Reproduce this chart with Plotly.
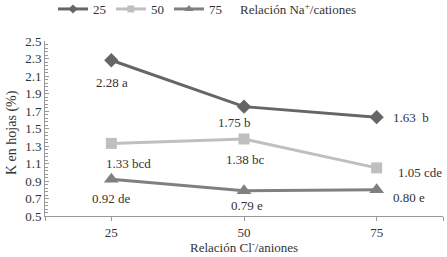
import plotly.graph_objects as go

# ---- data ----
categories = ["25", "50", "75"]
series_names = ["25", "50", "75"]
values_25 = [2.28, 1.75, 1.63]
values_50 = [1.33, 1.38, 1.05]
values_75 = [0.92, 0.79, 0.80]
labels_25 = ["2.28 a", "1.75 b", "1.63  b"]
labels_50 = ["1.33 bcd", "1.38 bc", "1.05 cde"]
labels_75 = ["0.92 de", "0.79 e", "0.80 e"]
y_ticks = [0.5, 0.7, 0.9, 1.1, 1.3, 1.5, 1.7, 1.9, 2.1, 2.3, 2.5]

FONT = "'Liberation Serif', 'Times New Roman', 'DejaVu Serif', serif"
TXT = "#333333"
W, H = 447, 257
ML, MR, MT, MB = 45, 4, 41, 41
PW, PH = W - ML - MR, H - MT - MB

colors = ["#666666", "#BFBFBF", "#808080"]
symbols = ["diamond", "square", "triangle-up"]
msizes = [11, 11, 13]
legend_msizes = [7, 7, 8]
all_vals = [values_25, values_50, values_75]
all_labels = [labels_25, labels_50, labels_75]

# label offsets in pixels (style): (xshift, yshift, xanchor)
offsets = [
    [(1, -22, "center"), (-10, -16, "center"), (14, 0, "left")],
    [(17, -20, "center"), (1, -20, "center"), (19, -5, "left")],
    [(0, -19, "center"), (3, -15, "center"), (14, -8, "left")],
]

xpos = list(range(len(categories)))

fig = go.Figure()
for name, vals, c, s, ms in zip(series_names, all_vals, colors, symbols, msizes):
    fig.add_trace(go.Scatter(
        x=xpos, y=vals, name=name, mode="lines+markers", showlegend=False,
        line=dict(color=c, width=3),
        marker=dict(symbol=s, size=ms, color=c),
    ))
# legend-only entries (smaller legend markers)
for name, c, s, ms in zip(series_names, colors, symbols, legend_msizes):
    fig.add_trace(go.Scatter(
        x=[None], y=[None], name=name, mode="lines+markers", showlegend=True,
        line=dict(color=c, width=3),
        marker=dict(symbol=s, size=ms, color=c),
    ))

tf = dict(family=FONT, size=13, color=TXT)
annotations = []
for vals, labs, offs in zip(all_vals, all_labels, offsets):
    for i, (v, lab) in enumerate(zip(vals, labs)):
        xs, ys, xa = offs[i]
        annotations.append(dict(
            x=xpos[i], y=v, xref="x", yref="y", text=lab, showarrow=False,
            xanchor=xa, yanchor="middle", xshift=xs, yshift=ys, font=tf,
        ))

# legend title
annotations.append(dict(
    x=(238 - ML) / PW, y=1 + (MT - 9) / PH, xref="paper", yref="paper",
    text="Relación Na<sup>+</sup>/cationes", showarrow=False,
    xanchor="left", yanchor="middle", font=tf,
))
# x axis title
annotations.append(dict(
    x=(244 - ML) / PW, y=-(247 - (H - MB)) / PH, xref="paper", yref="paper",
    text="Relación Cl<sup>-</sup>/aniones", showarrow=False,
    xanchor="center", yanchor="middle", font=tf,
))
# y axis title
annotations.append(dict(
    x=-(ML - 12) / PW, y=((H - MB) - 133) / PH, xref="paper", yref="paper",
    text="K en hojas (%)", showarrow=False, textangle=-90,
    xanchor="center", yanchor="middle", font=dict(family=FONT, size=14, color=TXT),
))

fig.update_layout(
    width=W, height=H,
    margin=dict(l=ML, r=MR, t=MT, b=MB, autoexpand=False),
    paper_bgcolor="white", plot_bgcolor="white",
    font=tf,
    showlegend=True,
    legend=dict(orientation="h", x=0.02, xanchor="left", y=1 - 9 / H, yanchor="middle",
                yref="container", font=tf, itemwidth=30, bgcolor="rgba(0,0,0,0)"),
    annotations=annotations,
)

fig.update_xaxes(
    range=[-0.5, 2.5], tickvals=[-0.5] + xpos + [2.5], ticktext=[""] + categories + [""],
    showline=True, linecolor="#999999", linewidth=1,
    ticks="outside", ticklen=4, tickcolor="#999999",
    showgrid=False, zeroline=False, automargin=False,
    tickfont=tf,
)
fig.update_yaxes(
    range=[0.5, 2.5], tickvals=y_ticks, ticktext=[f"{t:.1f}" for t in y_ticks],
    showline=True, linecolor="#999999", linewidth=1,
    ticks="inside", ticklen=4, tickcolor="#999999",
    minor=dict(ticks="inside", ticklen=3, dtick=0.04, tick0=0.5, tickcolor="#999999"),
    showgrid=False, zeroline=False, automargin=False,
    tickfont=tf,
)

fig.write_html(
    "out.html",
    config={"displayModeBar": False},
    post_script="document.body.style.margin='0';document.body.style.padding='0';",
)
